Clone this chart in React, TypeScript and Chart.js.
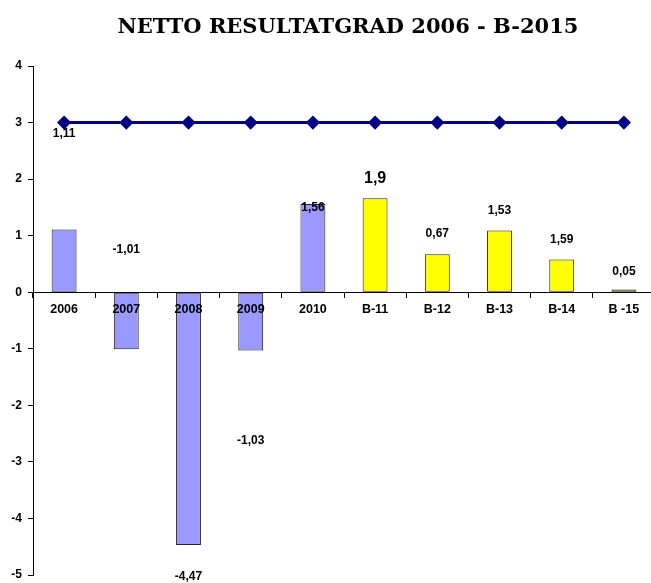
import React, { useEffect, useRef } from "react";
import { Chart, registerables } from "chart.js";

Chart.register(...registerables);

const categories = ["2006", "2007", "2008", "2009", "2010", "B-11", "B-12", "B-13", "B-14", "B -15"];
const barValues = [1.11, -1.01, -4.47, -1.03, 1.56, 1.66, 0.67, 1.09, 0.58, 0.05];
const lineValues = [3, 3, 3, 3, 3, 3, 3, 3, 3, 3];
const barColors = ["#9999FF", "#9999FF", "#9999FF", "#9999FF", "#9999FF", "#FFFF00", "#FFFF00", "#FFFF00", "#FFFF00", "#FFFF00"];
const valueLabels = ["1,11", "-1,01", "-4,47", "-1,03", "1,56", "1,9", "0,67", "1,53", "1,59", "0,05"];
const labelAnchors = [2.8, 0.76, -5.03, -2.63, 1.5, 2.01, 1.04, 1.45, 0.93, 0.37];
const labelSizes = [12, 12, 12, 12, 12, 16, 12, 12, 12, 12];
const titleText = "NETTO RESULTATGRAD 2006 - B-2015";

const SANS = "Arial, 'Liberation Sans', sans-serif";

const labelPlugin = {
  id: "valueLabels",
  afterDatasetsDraw(chart: any) {
    const ctx = chart.ctx;
    const xs = chart.scales.x;
    const ys = chart.scales.y;
    ctx.save();
    ctx.fillStyle = "#000";
    ctx.textAlign = "center";
    ctx.textBaseline = "middle";
    valueLabels.forEach((t, i) => {
      ctx.font = `bold ${labelSizes[i]}px ${SANS}`;
      ctx.fillText(t, xs.getPixelForValue(i), ys.getPixelForValue(labelAnchors[i]));
    });
    ctx.restore();
  },
};

const titlePlugin = {
  id: "customTitle",
  afterDraw(chart: any) {
    const ctx = chart.ctx;
    const a = chart.chartArea;
    ctx.save();
    ctx.fillStyle = "#000";
    ctx.textAlign = "center";
    ctx.textBaseline = "middle";
    ctx.font = "bold 21px 'DejaVu Serif', serif";
    ctx.fillText(titleText, (a.left + a.right) / 2 + 4, 28);
    ctx.restore();
  },
};

export default function App() {
  const ref = useRef<HTMLCanvasElement>(null);
  useEffect(() => {
    if (!ref.current) return;
    const chart = new Chart(ref.current, {
      type: "bar",
      data: {
        labels: categories,
        datasets: [
          {
            type: "line",
            data: lineValues,
            borderColor: "#000080",
            backgroundColor: "#000080",
            borderWidth: 3,
            pointStyle: "rectRot",
            pointRadius: 5,
            pointBackgroundColor: "#000080",
            pointBorderColor: "#000080",
            order: 0,
          } as any,
          {
            type: "bar",
            data: barValues,
            backgroundColor: barColors,
            borderColor: "#222",
            borderWidth: 1,
            borderSkipped: false,
            barPercentage: 0.4,
            categoryPercentage: 1,
            order: 1,
          } as any,
        ],
      },
      options: {
        responsive: false,
        animation: false,
        devicePixelRatio: 1,
        layout: { padding: { top: 66, bottom: 5, left: 0, right: 3 } },
        plugins: { legend: { display: false }, tooltip: { enabled: false }, title: { display: false } },
        scales: {
          x: {
            position: { y: 0 } as any,
            offset: true,
            afterFit(scale: any) {
              scale.height = 0;
              scale.paddingTop = 0;
              scale.paddingBottom = 0;
            },
            grid: { display: true, drawOnChartArea: false, offset: true, tickLength: 5, color: "#000", tickColor: "#000" },
            border: { display: true, color: "#000", width: 1, z: 1 },
            ticks: { z: 1, color: "#000", font: { family: SANS, size: 12.5, weight: "bold" }, padding: 5, maxRotation: 0, autoSkip: false },
          },
          y: {
            min: -5,
            max: 4,
            afterFit(scale: any) {
              scale.width = 33;
              scale.paddingTop = 0;
              scale.paddingBottom = 0;
            },
            grid: { display: true, drawOnChartArea: false, tickLength: 5, color: "#000", tickColor: "#000" },
            border: { display: true, color: "#000", width: 1 },
            ticks: { stepSize: 1, color: "#000", font: { family: SANS, size: 12, weight: "bold" }, padding: 6 },
          },
        },
      },
      plugins: [labelPlugin, titlePlugin],
    });
    return () => chart.destroy();
  }, []);
  return (
    <div style={{ position: "fixed", left: 0, top: 0, width: 651, height: 583, overflow: "hidden", background: "#fff" }}>
      <canvas ref={ref} width={663} height={583} style={{ display: "block" }} />
    </div>
  );
}
